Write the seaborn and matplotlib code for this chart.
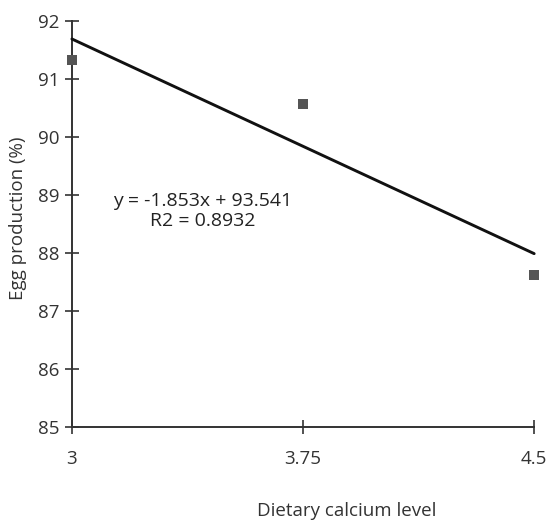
import matplotlib
matplotlib.use("Agg")
import pandas as pd
import matplotlib.pyplot as plt
import seaborn as sns

# data
calcium_levels = [3, 3.75, 4.5]
egg_production = [91.32, 90.57, 87.62]
x_ticks = [3, 3.75, 4.5]
x_tick_labels = ["3", "3.75", "4.5"]
y_ticks = [85, 86, 87, 88, 89, 90, 91, 92]
equation_text = "y = -1.853x + 93.541\nR2 = 0.8932"

df = pd.DataFrame({"calcium": calcium_levels, "egg": egg_production})

sns.set_style("white")
plt.rcParams["font.family"] = ["Open Sans", "DejaVu Sans"]

fig = plt.figure(figsize=(5.49, 5.20), dpi=100)
ax = fig.add_axes([0.131, 0.179, 0.842, 0.781])

##trend line (linear fit) + points
sns.regplot(data=df, x="calcium", y="egg", ci=None, truncate=True, ax=ax,
            marker="s",
            scatter_kws=dict(color="#555555", s=48, alpha=1, edgecolor="none",
                             clip_on=False, zorder=4),
            line_kws=dict(color="#111111", lw=2.1, clip_on=False, zorder=3))

ax.text(3.425, 88.72, equation_text, ha="center", va="center", multialignment="center",
        fontsize=14, color="#222222")

ax.set_xlim(3, 4.5)
ax.set_ylim(85, 92)
ax.set_xticks(x_ticks)
ax.set_xticklabels(x_tick_labels)
ax.set_yticks(y_ticks)

for side in ["top", "right"]:
    ax.spines[side].set_visible(False)
for side in ["left", "bottom"]:
    ax.spines[side].set_color("#333333")
    ax.spines[side].set_linewidth(1.4)

ax.tick_params(bottom=True, left=True, direction="inout", length=9.5, width=1.2,
               color="#333333", labelsize=13.5, labelcolor="#333333", pad=4)
ax.tick_params(axis="x", pad=12)

ax.set_xlabel("Dietary calcium level", fontsize=13.5, color="#333333", va="center")
ax.xaxis.set_label_coords(0.595, -0.206)
ax.set_ylabel("Egg production (%)", fontsize=13.5, color="#333333")
ax.yaxis.set_label_coords(-0.097, 0.515)

fig.savefig("out.png", dpi=100)
